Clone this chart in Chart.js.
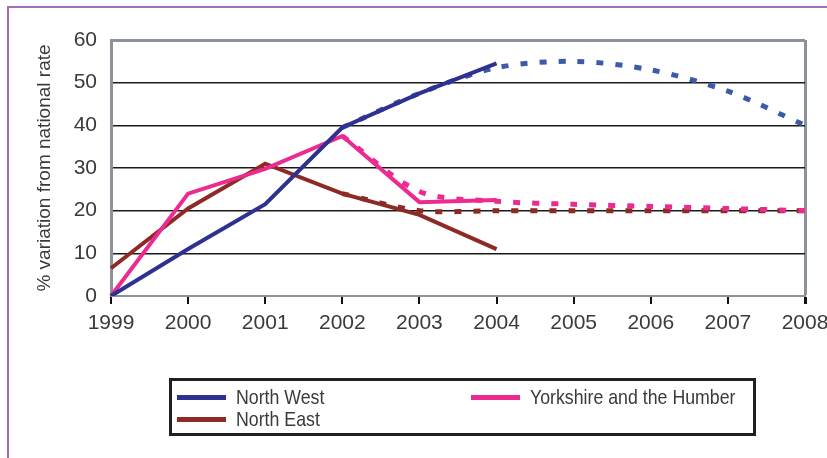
<!DOCTYPE html>
<html>
<head>
<meta charset="utf-8">
<script src="https://cdn.jsdelivr.net/npm/chart.js@4"></script>
<style>
  body { margin: 0; background: #fff; }
  #wrap { position: relative; width: 827px; height: 458px; overflow: hidden; }
  #frame {
    position: absolute; left: 7px; top: 6px; width: 900px; height: 500px;
    border-top: 2px solid #a86db8; border-left: 2px solid #a86db8;
  }
  #legend {
    position: absolute; left: 169px; top: 378px; width: 587px; height: 58px;
    box-sizing: border-box; border: 3px solid #231f20; padding: 5px 0 0 5px;
    display: grid; grid-template-columns: 294px auto; grid-auto-rows: 22px;
    font-family: "Liberation Sans", Arial, sans-serif;
    font-size: 21px; color: #3a3a3a;
  }
  .item { display: flex; align-items: center; white-space: nowrap; }
  .swatch { width: 49px; height: 5px; margin-right: 10px; flex: none; }
  .name { display: inline-block; transform: scaleX(0.845); transform-origin: left center; }
  canvas { position: absolute; left: 0; top: 0; }
</style>
</head>
<body>
<div id="wrap">
  <div id="frame"></div>
  <canvas id="regionChart" width="827" height="458"></canvas>
  <div id="legend"></div>
</div>
<script>
const years = ['1999', '2000', '2001', '2002', '2003', '2004', '2005', '2006', '2007', '2008'];
const northWest = [0, 11, 21.5, 39.5, 47.5, 54.5, null, null, null, null];
const yorkshire = [0, 24, 29.8, 37.5, 22, 22.5, null, null, null, null];
const northEast = [6.5, 20.5, 31, 24, 19, 11, null, null, null, null];
// projected rates, drawn dotted
const northWestTrend = [null, null, null, 39.5, 47.5, 53.5, 55, 53, 48, 40];
const yorkshireTrend = [null, null, null, 37.5, 24.5, 22.2, 21.5, 21, 20.5, 20];
const northEastTrend = [null, null, null, 24, 20, 20, 20, 20, 20, 20];
const yTicks = [0, 10, 20, 30, 40, 50, 60];

const axisGrey = '#8c9299';
const textColor = '#3a3a3a';
Chart.defaults.font.family = '"Liberation Sans", Arial, sans-serif';
Chart.defaults.color = textColor;

function solid(label, data, color) {
    return { label: label, data: data, borderColor: color, backgroundColor: color,
             borderWidth: 4, pointRadius: 0, tension: 0, order: 0, inLegend: true };
}
function dotted(label, data, color) {
    return { label: label, data: data, borderColor: color, backgroundColor: color,
             borderWidth: 5, borderDash: [7, 12], borderCapStyle: 'butt',
             pointRadius: 0, tension: 0.3, order: 1, inLegend: false };
}

const ctx = document.getElementById('regionChart').getContext('2d');
const chart = new Chart(ctx, {
    type: 'line',
    data: {
        labels: years,
        datasets: [
            solid('North West', northWest, '#2e3192'),
            solid('Yorkshire and the Humber', yorkshire, '#ec2a90'),
            solid('North East', northEast, '#8e2a25'),
            dotted('North West projection', northWestTrend, '#3c5aa8'),
            dotted('Yorkshire projection', yorkshireTrend, '#ec2a90'),
            dotted('North East projection', northEastTrend, '#8e2a25')
        ]
    },
    options: {
        responsive: false,
        animation: false,
        layout: { padding: { top: 40, right: 22, left: 0, bottom: 112 } },
        plugins: { legend: { display: false }, tooltip: { enabled: false } },
        scales: {
            x: {
                offset: false,
                border: { color: axisGrey, width: 2 },
                grid: {
                    color: c => c.index === years.length - 1 ? axisGrey : 'transparent',
                    tickColor: '#111',
                    lineWidth: c => c.index === years.length - 1 ? 3 : 2,
                    tickLength: 8
                },
                ticks: { font: { size: 21 }, color: textColor, padding: 7, maxRotation: 0 },
                afterFit: s => { s.height = 50; s.paddingLeft = 0; s.paddingRight = 0; }
            },
            y: {
                min: 0,
                max: 60,
                border: { color: axisGrey, width: 3 },
                grid: {
                    drawTicks: false,
                    color: c => (c.tick.value === 0 || c.tick.value === 60) ? axisGrey : '#1a1a1a',
                    lineWidth: c => c.tick.value === 60 ? 3 : 1.5
                },
                afterBuildTicks: s => { s.ticks = yTicks.map(v => ({ value: v })); },
                ticks: { font: { size: 21 }, color: textColor, padding: 14 },
                title: {
                    display: true,
                    text: '% variation from national rate',
                    font: { size: 19 },
                    color: textColor,
                    padding: { top: 33, bottom: 0 }
                },
                afterFit: s => { s.width = 111; s.paddingTop = 0; s.paddingBottom = 0; }
            }
        }
    }
});

// legend box built from the solid series
const legend = document.getElementById('legend');
const legendOrder = ['North West', 'Yorkshire and the Humber', 'North East'];
legendOrder.forEach(name => {
    const ds = chart.data.datasets.find(d => d.inLegend && d.label === name);
    const item = document.createElement('div');
    item.className = 'item';
    const sw = document.createElement('span');
    sw.className = 'swatch';
    sw.style.background = ds.borderColor;
    const txt = document.createElement('span');
    txt.className = 'name';
    txt.textContent = ds.label;
    item.appendChild(sw);
    item.appendChild(txt);
    legend.appendChild(item);
});
</script>
</body>
</html>
